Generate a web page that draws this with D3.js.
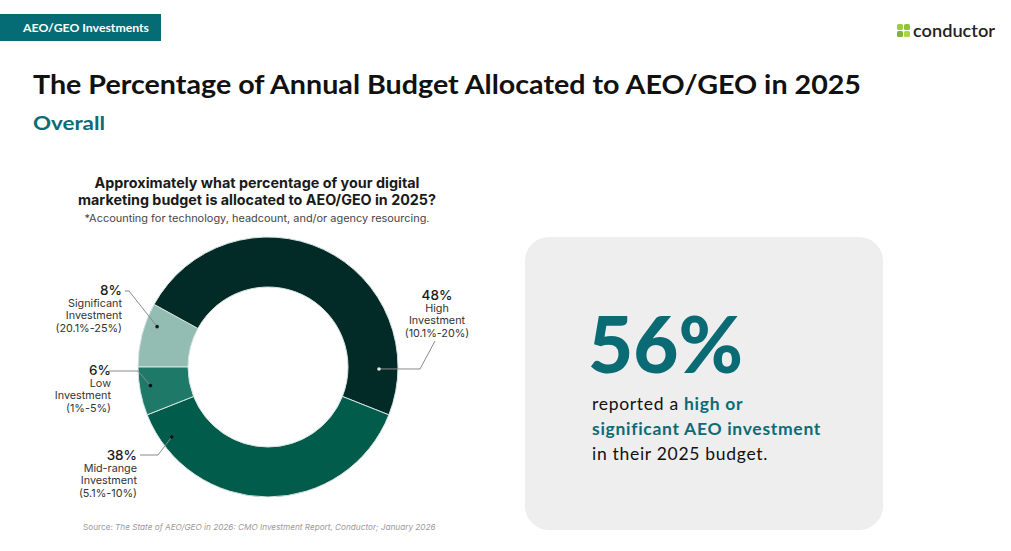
<!DOCTYPE html>
<html><head><meta charset="utf-8">
<script src="https://cdn.jsdelivr.net/npm/d3@7/dist/d3.min.js"></script>
<style>
html,body{margin:0;padding:0;background:#fff;}
svg{display:block;}
</style></head>
<body>
<svg id="chart" width="1011" height="551"></svg>
<script>
// ---- data ----
const categories = ["Significant", "High", "Mid-range", "Low"];
const values = [8, 48, 38, 6];
const pctLabels = ["8%", "48%", "38%", "6%"];
const descLabels = [
  ["Significant", "Investment", "(20.1%-25%)"],
  ["High", "Investment", "(10.1%-20%)"],
  ["Mid-range", "Investment", "(5.1%-10%)"],
  ["Low", "Investment", "(1%-5%)"]
];
const headline = "56%";

// ---- layout (not data) ----
const colors = ["#93bcb2", "#022b27", "#025c4b", "#1e7968"];
const cx = 268, cy = 367, rOuter = 130, rInner = 80;
const dotAngleDeg = [290, 91, 234, 261];
const dotRadius = [118, 111, 119, 119];
const dotFill = ["#1a1a1a", "#e8e8e8", "#111", "#111"];
const labelPos = [
  {x:122, y:295, anchor:"end",    elbow:[129,291], end:[125,291]},
  {x:437, y:300, anchor:"middle", elbow:[420,369], end:[435,341]},
  {x:137, y:460, anchor:"end",    elbow:[158,455], end:[140,455]},
  {x:111, y:375, anchor:"end",    elbow:[138,371], end:[109,371]}
];

const svg = d3.select("#chart");

// banner
svg.append("rect").attr("x",0).attr("y",14).attr("width",161).attr("height",27).attr("fill","#056b75");
svg.append("text").attr("x",23).attr("y",32).attr("fill","#fff")
  .attr("font-family","Lato").attr("font-weight",700).attr("font-size",11.5)
  .attr("textLength",126).attr("lengthAdjust","spacingAndGlyphs")
  .text("AEO/GEO Investments");

// logo
const logo = svg.append("g");
[[897,24,"#9ccc3c"],[904,24,"#8fc33a"],[897,31,"#7fb537"],[904,31,"#a9d44a"]].forEach(s=>{
  logo.append("rect").attr("x",s[0]).attr("y",s[1]).attr("width",6).attr("height",6).attr("rx",1.5).attr("fill",s[2]);
});
logo.append("text").attr("x",913).attr("y",37).attr("fill","#222")
  .attr("font-family","Lato").attr("font-weight",600).attr("font-size",18)
  .attr("textLength",82).attr("lengthAdjust","spacingAndGlyphs").text("conductor");

// titles
svg.append("text").attr("x",33).attr("y",94).attr("fill","#111")
  .attr("font-family","Lato").attr("font-weight",700).attr("font-size",26.5)
  .attr("textLength",828).attr("lengthAdjust","spacingAndGlyphs")
  .text("The Percentage of Annual Budget Allocated to AEO/GEO in 2025");
svg.append("text").attr("x",33).attr("y",130).attr("fill","#0b6b76")
  .attr("font-family","Lato").attr("font-weight",700).attr("font-size",19.5)
  .attr("textLength",72).attr("lengthAdjust","spacingAndGlyphs")
  .text("Overall");

// question
const q = [
  {t:"Approximately what percentage of your digital", y:188, w:325, fs:14, fw:700, c:"#1a1a1a"},
  {t:"marketing budget is allocated to AEO/GEO in 2025?", y:205, w:358, fs:14, fw:700, c:"#1a1a1a"},
  {t:"*Accounting for technology, headcount, and/or agency resourcing.", y:222, w:345, fs:10.5, fw:400, c:"#444"}
];
q.forEach(l=>{
  svg.append("text").attr("x",257).attr("y",l.y).attr("text-anchor","middle")
    .attr("font-family","Inter").attr("font-weight",l.fw).attr("font-size",l.fs).attr("fill",l.c)
    .attr("textLength",l.w).attr("lengthAdjust","spacingAndGlyphs").text(l.t);
});

// donut
const pie = d3.pie().sort(null).value(d=>d).startAngle(-Math.PI/2).endAngle(1.5*Math.PI);
const arc = d3.arc().innerRadius(rInner).outerRadius(rOuter);
const arcs = pie(values);
const g = svg.append("g").attr("transform",`translate(${cx},${cy})`);
g.selectAll("path").data(arcs).join("path")
  .attr("d",arc).attr("fill",(d,i)=>colors[i])
  .attr("stroke","#d8e4e1").attr("stroke-width",1);

// labels & leaders
arcs.forEach((a,i)=>{
  const p = d3.pointRadial(dotAngleDeg[i]*Math.PI/180, dotRadius[i]);
  const dot = [cx+p[0], cy+p[1]];
  const lp = labelPos[i];
  svg.append("path").attr("d",d3.line()([dot, lp.elbow, lp.end]))
    .attr("fill","none").attr("stroke","#8a8a8a").attr("stroke-width",1);
  svg.append("circle").attr("cx",dot[0]).attr("cy",dot[1]).attr("r",1.8).attr("fill",dotFill[i]);
  const t = svg.append("text").attr("text-anchor",lp.anchor).attr("font-family","Inter");
  t.append("tspan").attr("x",lp.x).attr("y",lp.y).attr("font-size",13.5).attr("font-weight",500).attr("fill","#1a1a1a").text(pctLabels[i]);
  descLabels[i].forEach((s,k)=>{
    t.append("tspan").attr("x",lp.x).attr("y",lp.y+12.2*(k+1)).attr("font-size",10.8).attr("fill","#333").text(s);
  });
});

// source
const src = svg.append("text").attr("x",83).attr("y",530).attr("font-family","Inter").attr("font-size",8.2).attr("fill","#9a9a9a");
src.append("tspan").text("Source: ");
src.append("tspan").attr("font-style","italic").text("The State of AEO/GEO in 2026: CMO Investment Report, Conductor; January 2026");

// card
svg.append("rect").attr("x",525).attr("y",237).attr("width",358).attr("height",293).attr("rx",24).attr("fill","#eeeeee");
svg.append("text").attr("x",588).attr("y",373).attr("fill","#0b6b75")
  .attr("font-family","Lato").attr("font-weight",900).attr("font-size",78)
  .attr("textLength",155).attr("lengthAdjust","spacingAndGlyphs").text(headline);
const cardLines = [
  [["reported a ",false],["high or",true]],
  [["significant AEO investment",true]],
  [["in their 2025 budget.",false]]
];
cardLines.forEach((ln,k)=>{
  const t = svg.append("text").attr("x",592).attr("y",410+25*k).attr("font-family","Lato")
    .attr("font-size",17.5).attr("letter-spacing",0.7);
  ln.forEach(s=>{
    t.append("tspan").attr("font-weight",s[1]?700:400).attr("fill",s[1]?"#0b6b76":"#111").text(s[0]);
  });
});
</script>
</body></html>
